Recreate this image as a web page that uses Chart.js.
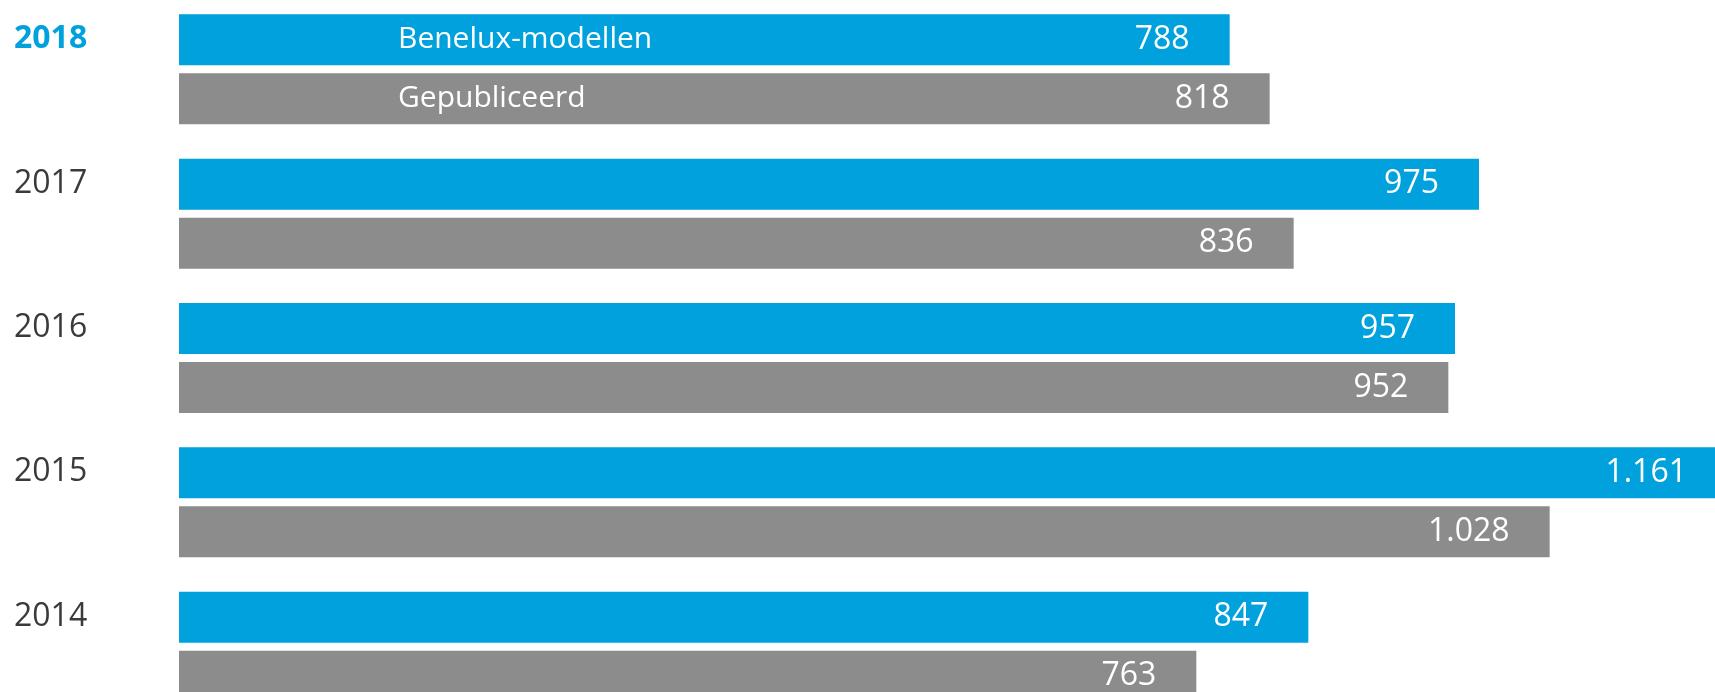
<!DOCTYPE html>
<html>
<head>
<meta charset="utf-8">
<script src="https://cdn.jsdelivr.net/npm/chart.js@4.4.1/dist/chart.umd.min.js"></script>
<style>
  html, body { margin: 0; padding: 0; background: #ffffff; overflow: hidden; width: 1715px; height: 692px; }
  #c { position: absolute; left: 0; top: -22px; width: 1715px; height: 760px; }
</style>
</head>
<body>
<canvas id="c" width="1715" height="760"></canvas>
<script>
const years = ['2018', '2017', '2016', '2015', '2014'];
const seriesNames = ['Benelux-modellen', 'Gepubliceerd'];
const beneluxValues = [788, 975, 957, 1161, 847];
const publishedValues = [818, 836, 952, 1028, 763];
const highlightYear = '2018';

const BLUE = '#00a1dc';
const GRAY = '#8c8c8c';
const FONT = "'Open Sans', 'DejaVu Sans', sans-serif";

function fmt(v) {
  return String(v).replace(/\B(?=(\d{3})+(?!\d))/g, '.');
}

const labelPlugin = {
  id: 'barLabels',
  afterDatasetsDraw(chart) {
    const ctx = chart.ctx;
    ctx.save();
    ctx.fillStyle = '#ffffff';
    ctx.textBaseline = 'middle';
    chart.data.datasets.forEach((ds, di) => {
      const meta = chart.getDatasetMeta(di);
      ctx.font = '32px ' + FONT;
      meta.data.forEach((bar, i) => {
        ctx.textAlign = 'right';
        ctx.fillText(fmt(ds.data[i]), bar.x - 40, bar.y);
      });
      // series name inside the first (top) category bar
      const first = meta.data[0];
      ctx.font = '30px ' + FONT;
      ctx.textAlign = 'left';
      ctx.fillText(ds.label, chart.chartArea.left + 219, first.y);
    });
    ctx.restore();
  }
};

new Chart(document.getElementById('c'), {
  type: 'bar',
  data: {
    labels: years,
    datasets: [
      { label: seriesNames[0], data: beneluxValues, backgroundColor: BLUE, borderWidth: 0 },
      { label: seriesNames[1], data: publishedValues, backgroundColor: GRAY, borderWidth: 0 }
    ]
  },
  options: {
    indexAxis: 'y',
    responsive: false,
    maintainAspectRatio: false,
    devicePixelRatio: 1,
    animation: false,
    categoryPercentage: 0.818,
    barPercentage: 0.864,
    layout: { padding: { left: 14, right: 0, top: 0, bottom: 0 } },
    plugins: {
      legend: { display: false },
      tooltip: { enabled: false }
    },
    scales: {
      x: {
        display: false,
        min: 0,
        max: 1152
      },
      y: {
        grid: { display: false, drawTicks: false },
        border: { display: false },
        afterFit(axis) { axis.width = 165; },
        ticks: {
          crossAlign: 'far',
          padding: 0,
          labelOffset: -30,
          color: (c) => (years[c.index] === highlightYear ? BLUE : '#3a3a3a'),
          font: (c) => ({
            family: FONT,
            size: 32,
            weight: years[c.index] === highlightYear ? 'bold' : 'normal'
          })
        }
      }
    }
  },
  plugins: [labelPlugin]
});
</script>
</body>
</html>
